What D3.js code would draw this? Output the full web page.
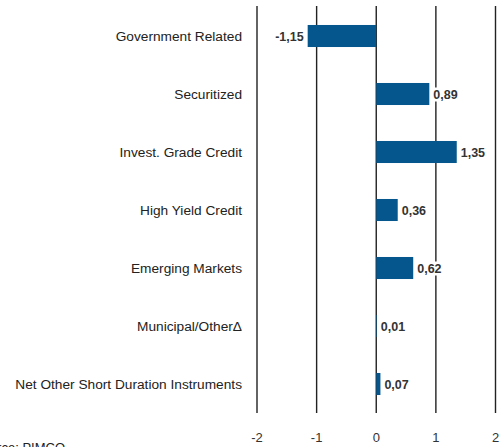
<!DOCTYPE html>
<html><head><meta charset="utf-8">
<script src="https://cdn.jsdelivr.net/npm/d3@7"></script>
<style>body{margin:0;background:#fff}svg{display:block}</style>
</head><body>
<svg id="c" width="501" height="447"></svg>
<script>
const categories = ["Government Related","Securitized","Invest. Grade Credit","High Yield Credit","Emerging Markets","Municipal/Other\u0394","Net Other Short Duration Instruments"];
const values = [-1.15, 0.89, 1.35, 0.36, 0.62, 0.01, 0.07];
const valueLabels = ["-1,15","0,89","1,35","0,36","0,62","0,01","0,07"];
const ticks = [-2, -1, 0, 1, 2];
const tickLabels = ["-2","-1","0","1","2"];
const source = "Source: PIMCO";

const svg = d3.select("#c");
const font = "'Liberation Sans', Arial, sans-serif";
const x = d3.scaleLinear().domain([-2, 2]).range([257, 495.5]);
const y = d3.scaleBand().domain(categories).range([7, 413]).paddingInner(0.62).paddingOuter(0.31);

// gridlines
svg.append("g").selectAll("line").data(ticks).join("line")
  .attr("x1", d => x(d)).attr("x2", d => x(d))
  .attr("y1", 6).attr("y2", 413)
  .attr("stroke", "#222").attr("stroke-width", 1.4);

// bars
svg.append("g").selectAll("rect").data(values).join("rect")
  .attr("x", d => Math.min(x(0), x(d)))
  .attr("width", d => Math.abs(x(d) - x(0)))
  .attr("y", (d, i) => y(categories[i]))
  .attr("height", y.bandwidth())
  .attr("fill", "#04568c");

// value labels with white background
const vl = svg.append("g").selectAll("g").data(values).join("g");
vl.each(function(d, i) {
  const g = d3.select(this);
  const cy = y(categories[i]) + y.bandwidth() / 2;
  const neg = d < 0;
  const tx = neg ? x(d) - 4 : x(d) + 4;
  const t = g.append("text")
    .attr("x", tx).attr("y", cy).attr("dy", "0.36em")
    .attr("text-anchor", neg ? "end" : "start")
    .attr("font-family", font).attr("font-size", 12.5).attr("font-weight", "bold")
    .attr("fill", "#333")
    .text(valueLabels[i]);
  const bb = t.node().getBBox();
  g.insert("rect", "text").attr("x", bb.x - 1).attr("y", bb.y).attr("width", bb.width + 2).attr("height", bb.height).attr("fill", "#fff");
});

// category labels
svg.append("g").selectAll("text").data(categories).join("text")
  .attr("x", 242).attr("y", d => y(d) + y.bandwidth() / 2).attr("dy", "0.36em")
  .attr("text-anchor", "end")
  .attr("font-family", font).attr("font-size", 13.7)
  .attr("fill", "#222")
  .text(d => d);

// x tick labels
svg.append("g").selectAll("text").data(ticks).join("text")
  .attr("x", d => x(d)).attr("y", 437).attr("dy", "0.36em")
  .attr("text-anchor", "middle")
  .attr("font-family", font).attr("font-size", 13)
  .attr("fill", "#333")
  .text((d, i) => tickLabels[i]);

// source (partially cut at the bottom edge, as in the reference)
svg.append("text").attr("x", 65).attr("y", 452).attr("text-anchor", "end")
  .attr("font-family", font).attr("font-size", 13).attr("fill", "#222").text(source);
</script>
</body></html>
